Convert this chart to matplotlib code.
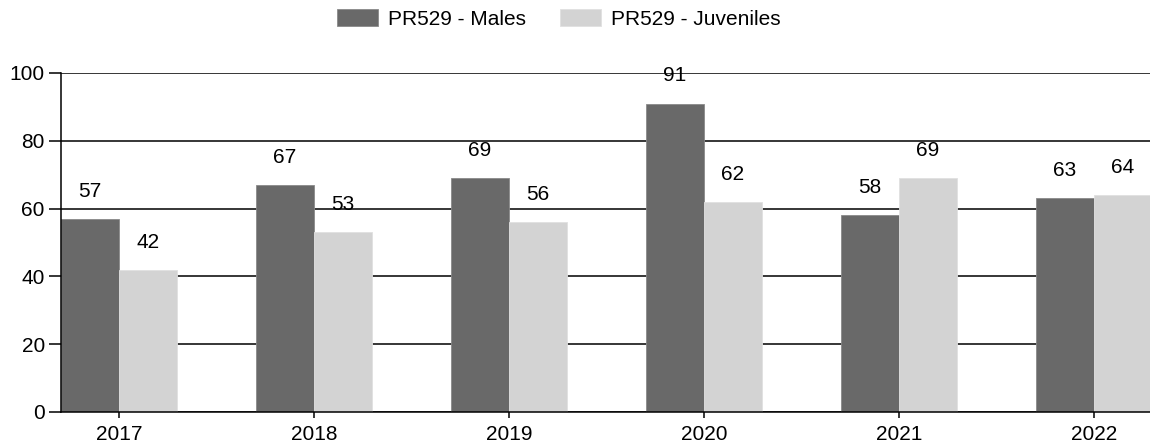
import numpy as np
import matplotlib.pyplot as plt

plt.rcParams['font.family'] = ['Liberation Sans', 'DejaVu Sans']

years = ['2017', '2018', '2019', '2020', '2021', '2022']
males = [57, 67, 69, 91, 58, 63]
juveniles = [42, 53, 56, 62, 69, 64]

x = np.arange(len(years))
w = 0.297

fig = plt.figure(figsize=(11.5, 4.44), dpi=100)
ax = fig.add_axes([0.053, 0.0721, 0.947, 0.7635])

ax.set_axisbelow(True)
ax.yaxis.grid(True, color='black', linewidth=1.1)
b1 = ax.bar(x - w / 2, males, w, color='#696969', edgecolor='#8a8a8a', linewidth=0.6,
            label='PR529 - Males')
b2 = ax.bar(x + w / 2, juveniles, w, color='#d3d3d3', edgecolor='#e0e0e0', linewidth=0.6,
            label='PR529 - Juveniles')

for bars, vals in ((b1, males), (b2, juveniles)):
    for rect, v in zip(bars, vals):
        ax.annotate(str(v), (rect.get_x() + rect.get_width() / 2, v),
                    xytext=(0, 13), textcoords='offset points',
                    ha='center', va='bottom', fontsize=15)

ax.set_xlim(-w, 5.288)
ax.set_ylim(0, 100)
ax.set_yticks([0, 20, 40, 60, 80, 100])
ax.set_xticks(x)
ax.set_xticklabels(years)
ax.tick_params(axis='y', length=8.6, width=1.1, labelsize=15, pad=3)
ax.tick_params(axis='x', length=4.5, width=1.1, labelsize=15, pad=5)

for s in ['top', 'right']:
    ax.spines[s].set_visible(False)
for s in ['left', 'bottom']:
    ax.spines[s].set_linewidth(1.1)

fig.legend(loc='center', bbox_to_anchor=(0.486, 0.957), ncol=2, frameon=False,
           fontsize=15, handlelength=1.97, handleheight=0.87, columnspacing=1.63,
           handletextpad=0.48)

fig.savefig('out.png', dpi=100)
